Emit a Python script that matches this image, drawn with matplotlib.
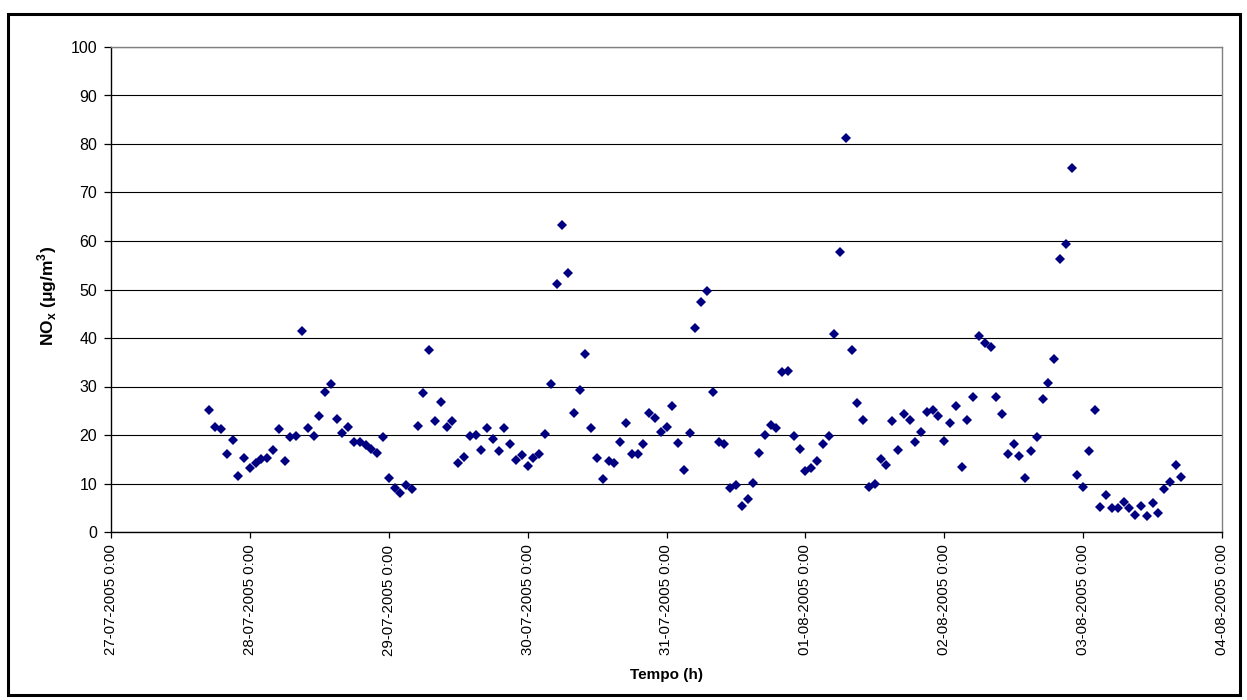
import matplotlib
matplotlib.use('Agg')
import matplotlib.pyplot as plt
import matplotlib.dates as mdates
from matplotlib.patches import Rectangle
import pandas as pd

plt.rcParams['font.family'] = ['Liberation Sans', 'DejaVu Sans']
plt.rcParams['mathtext.fontset'] = 'custom'
plt.rcParams['mathtext.rm'] = 'Liberation Sans'
plt.rcParams['mathtext.bf'] = 'Liberation Sans:bold'

# hourly NOx readings, first one at 27-07-2005 17:00
start = '2005-07-27 17:00'
nox = [
    25.1, 21.6, 21.2, 16.0, 19.0, 11.6, 15.2,                          # 27-07 17h-23h
    13.2, 14.3, 15.1, 15.2, 16.9, 21.3, 14.6, 19.6, 19.7, 41.4, 21.4, 19.8,
    23.9, 28.9, 30.6, 23.2, 20.4, 21.7, 18.6, 18.6, 17.9, 17.2, 16.2, 19.5,  # 28-07
    11.1, 9.0, 8.1, 9.6, 8.9, 21.9, 28.6, 37.5, 22.9, 26.8, 21.7, 22.9,
    14.3, 15.5, 19.7, 19.9, 17.0, 21.4, 19.2, 16.7, 21.4, 18.2, 14.8, 15.8,  # 29-07
    13.7, 15.3, 16.1, 20.2, 30.6, 51.2, 63.4, 53.5, 24.6, 29.3, 36.8, 21.4,
    15.2, 11.0, 14.6, 14.2, 18.6, 22.5, 16.0, 16.1, 18.1, 24.5, 23.6, 20.7,  # 30-07
    21.7, 25.9, 18.4, 12.8, 20.4, 42.0, 47.4, 49.7, 28.9, 18.6, 18.2, 9.0,
    9.7, 5.4, 6.8, 10.1, 16.2, 19.9, 22.0, 21.4, 32.9, 33.2, 19.7, 17.2,    # 31-07
    12.6, 13.2, 14.6, 18.1, 19.8, 40.9, 57.7, 81.3, 37.5, 26.6, 23.1, 9.2,
    9.9, 15.1, 13.8, 22.9, 17.0, 24.4, 23.0, 18.6, 20.6, 24.7, 25.2, 23.9,  # 01-08
    18.7, 22.5, 25.9, 13.4, 23.0, 27.8, 40.4, 38.9, 38.2, 27.9, 24.3, 16.0,
    18.1, 15.7, 11.1, 16.6, 19.6, 27.5, 30.7, 35.6, 56.3, 59.4, 75.0, 11.8,  # 02-08
    9.2, 16.6, 25.2, 5.1, 7.6, 5.0, 5.0, 6.2, 5.0, 3.6, 5.4, 3.2,
    5.9, 3.9, 8.9, 10.4, 13.9, 11.4,                                         # 03-08
]
times = pd.date_range(start, periods=len(nox), freq='h')

day_ticks = pd.date_range('2005-07-27', '2005-08-04', freq='D')
y_ticks = list(range(0, 101, 10))

fig = plt.figure(figsize=(12.47, 7.0), dpi=100)
ax = fig.add_axes([111/1247, 1 - 532/700, (1222 - 111)/1247, (532 - 47)/700])

ax.plot(times, nox, linestyle='none', marker='D', markersize=4.8,
        color='#000080', markeredgewidth=0)

ax.set_xlim(day_ticks[0], day_ticks[-1])
ax.set_ylim(0, 100)
ax.set_xticks(day_ticks)
ax.xaxis.set_major_formatter(mdates.DateFormatter('%d-%m-%Y 0:00'))
ax.set_yticks(y_ticks)
plt.setp(ax.get_xticklabels(), rotation=90)
ax.tick_params(axis='x', direction='out', length=4, width=0.9, pad=5, labelsize=10.8)
ax.tick_params(axis='y', direction='out', length=5, width=0.9, pad=5, labelsize=11.5)

ax.set_axisbelow(True)
ax.yaxis.grid(True, color='black', linewidth=0.8)
ax.xaxis.grid(False)
for side in ['top', 'right']:
    ax.spines[side].set_color('#808080')
    ax.spines[side].set_linewidth(1.0)
for side in ['left', 'bottom']:
    ax.spines[side].set_color('black')
    ax.spines[side].set_linewidth(1.0)

fig.text(666/1247, 1 - 675/700, 'Tempo (h)', ha='center', va='center',
         fontsize=11, fontweight='bold')
fig.text(47/1247, 1 - 296/700, r'NO$_\mathbf{x}$ ($\mathbf{\mu}$g/m$^\mathbf{3}$)',
         ha='center', va='center', rotation=90, fontsize=12.5, fontweight='bold')

# outer chart frame
fig.patches.append(Rectangle((8/1247, 1 - 695/700), (1240 - 8)/1247, (695 - 14)/700,
                             transform=fig.transFigure, fill=False,
                             edgecolor='black', linewidth=2.2))

fig.savefig('out.png', dpi=100)
